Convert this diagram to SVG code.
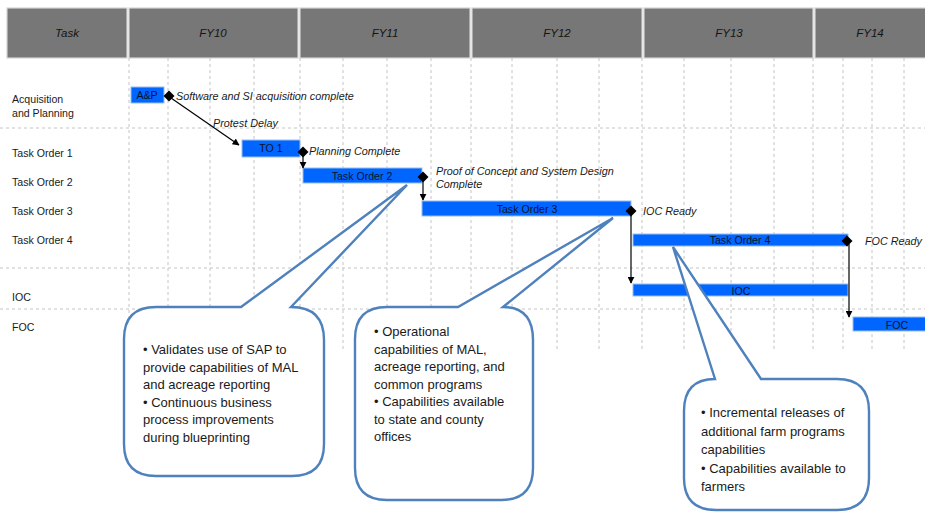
<svg xmlns="http://www.w3.org/2000/svg" width="925" height="512" viewBox="0 0 925 512">
<style>
.hdr{fill:#777777;stroke:#d4d4d4;stroke-width:1.2}
.ht{font-family:"Liberation Sans",Arial,sans-serif;font-style:italic;font-size:11.5px;fill:#141414;text-anchor:middle}
.grid{stroke:#c4c4c4;stroke-width:1;stroke-dasharray:3,3;fill:none}
.lbl{font-family:"Liberation Sans",Arial,sans-serif;font-size:10.6px;fill:#1a1a1a}
.bar{fill:#0066ff;stroke:#99bdf0;stroke-width:1}
.bt{font-family:"Liberation Sans",Arial,sans-serif;font-size:10.6px;fill:#07122e;text-anchor:middle}
.ms{font-family:"Liberation Sans",Arial,sans-serif;font-style:italic;font-size:10.8px;fill:#1a1a1a}
.dia{fill:#000}
.arr{stroke:#000;stroke-width:1.2;fill:none;marker-end:url(#ah)}
.co{fill:#ffffff;stroke:#4f81bd;stroke-width:2.4;stroke-linejoin:miter}
.ct{font-family:"Liberation Sans",Arial,sans-serif;font-size:13px;fill:#1a1a1a}
</style>
<defs>
<marker id="ah" viewBox="0 0 10 10" refX="9" refY="5" markerWidth="7" markerHeight="7" orient="auto" markerUnits="userSpaceOnUse">
<path d="M0,0 L10,5 L0,10 Z" fill="#000"/>
</marker>
</defs>
<rect width="925" height="512" fill="#ffffff"/>
<g id="header">
<rect class="hdr" x="7" y="8" width="120" height="50"/>
<rect class="hdr" x="129" y="8" width="169" height="50"/>
<rect class="hdr" x="300" y="8" width="170" height="50"/>
<rect class="hdr" x="472" y="8" width="170" height="50"/>
<rect class="hdr" x="644" y="8" width="169" height="50"/>
<rect class="hdr" x="815" y="8" width="112" height="50"/>
<text class="ht" x="67" y="37">Task</text>
<text class="ht" x="213" y="37">FY10</text>
<text class="ht" x="385" y="37">FY11</text>
<text class="ht" x="557" y="37">FY12</text>
<text class="ht" x="729" y="37">FY13</text>
<text class="ht" x="870" y="37">FY14</text>
</g>
<g id="grid" class="grid">
<path d="M129,58V352M168,58V352M210,58V352M254,58V352M300,58V352M343,58V352M387,58V352M431,58V352M471,58V352M512,58V352M557,58V352M599,58V352M642,58V352M684,58V352M731,58V352M774,58V352M813,58V352M843,58V352M872,58V352M904,58V352"/>
<path d="M0,128H925M0,268H925M0,309H925"/>
</g>
<g id="row-labels">
<text class="lbl" x="12" y="103">Acquisition</text>
<text class="lbl" x="12" y="117">and Planning</text>
<text class="lbl" x="12" y="157">Task Order 1</text>
<text class="lbl" x="12" y="186">Task Order 2</text>
<text class="lbl" x="12" y="215">Task Order 3</text>
<text class="lbl" x="12" y="244">Task Order 4</text>
<text class="lbl" x="12" y="301">IOC</text>
<text class="lbl" x="12" y="331">FOC</text>
</g>
<g id="bar-ap"><rect class="bar" x="131" y="87" width="33" height="16"/><text class="bt" x="147" y="99">A&amp;P</text></g>
<g id="bar-to1"><rect class="bar" x="242" y="140" width="58" height="17"/><text class="bt" x="271" y="152">TO 1</text></g>
<g id="bar-to2"><rect class="bar" x="303" y="168" width="119" height="15"/><text class="bt" x="362" y="179.5">Task Order 2</text></g>
<g id="bar-to3"><rect class="bar" x="422" y="201" width="209" height="15"/><text class="bt" x="527" y="212.5">Task Order 3</text></g>
<g id="bar-to4"><rect class="bar" x="633" y="234" width="215" height="12"/><text class="bt" x="740" y="244">Task Order 4</text></g>
<g id="bar-ioc"><rect class="bar" x="633" y="284" width="215" height="12"/><text class="bt" x="741" y="295">IOC</text></g>
<g id="bar-foc"><rect class="bar" x="853" y="317" width="74" height="14"/><text class="bt" x="897" y="329">FOC</text></g>
<g id="ms-acq"><path class="dia" d="M169,90.5 L174.5,96 L169,101.5 L163.5,96 Z"/><text class="ms" x="176" y="100">Software and SI acquisition complete</text></g>
<g id="ms-planning"><path class="dia" d="M303,146.5 L308.5,152 L303,157.5 L297.5,152 Z"/><text class="ms" x="309" y="155">Planning Complete</text></g>
<g id="ms-poc"><path class="dia" d="M423,171.5 L428.5,177 L423,182.5 L417.5,177 Z"/><text class="ms" x="436" y="175">Proof of Concept and System Design</text><text class="ms" x="436" y="188">Complete</text></g>
<g id="ms-ioc"><path class="dia" d="M631,205.5 L636.5,211 L631,216.5 L625.5,211 Z"/><text class="ms" x="643" y="215">IOC Ready</text></g>
<g id="ms-foc"><path class="dia" d="M847,235.5 L852.5,241 L847,246.5 L841.5,241 Z"/><text class="ms" x="865" y="245">FOC Ready</text></g>
<g id="connectors">
<path class="arr" d="M171,98 L239,145"/>
<text class="ms" x="213" y="127">Protest Delay</text>
<path class="arr" d="M303,156 V168"/>
<path class="arr" d="M423,181 V200"/>
<path class="arr" d="M631,214 V283"/>
<path class="arr" d="M849,244 V317"/>
</g>
<g id="callout-1">
<path class="co" d="M156,307 L241,307 L407,185 L291,307 Q324,307 324,340 L324,444 Q324,476 292,476 L156,476 Q124,476 124,444 L124,339 Q124,307 156,307 Z"/>
<text class="ct" x="143" y="354">• Validates use of SAP to</text>
<text class="ct" x="143" y="371.5">provide capabilities of MAL</text>
<text class="ct" x="143" y="389">and acreage reporting</text>
<text class="ct" x="143" y="406.5">• Continuous business</text>
<text class="ct" x="143" y="424">process improvements</text>
<text class="ct" x="143" y="441.5">during blueprinting</text>
</g>
<g id="callout-2">
<path class="co" d="M387,307 L458,307 L613,218 L503,307 Q533,307 533,340 L533,468 Q533,500 501,500 L387,500 Q355,500 355,468 L355,339 Q355,307 387,307 Z"/>
<text class="ct" x="374" y="336">• Operational</text>
<text class="ct" x="374" y="353.5">capabilities of MAL,</text>
<text class="ct" x="374" y="371">acreage reporting, and</text>
<text class="ct" x="374" y="388.5">common programs</text>
<text class="ct" x="374" y="406">• Capabilities available</text>
<text class="ct" x="374" y="423.5">to state and county</text>
<text class="ct" x="374" y="441">offices</text>
</g>
<g id="callout-3">
<path class="co" d="M715,379 L673,247 L761,379 L837,379 Q869,379 869,411 L869,478 Q869,510 837,510 L716,510 Q684,510 684,478 L684,411 Q684,379 715,379 Z"/>
<text class="ct" x="701" y="417">• Incremental releases of</text>
<text class="ct" x="701" y="435.5">additional farm programs</text>
<text class="ct" x="701" y="454">capabilities</text>
<text class="ct" x="701" y="472.5">• Capabilities available to</text>
<text class="ct" x="701" y="491">farmers</text>
</g>
</svg>
